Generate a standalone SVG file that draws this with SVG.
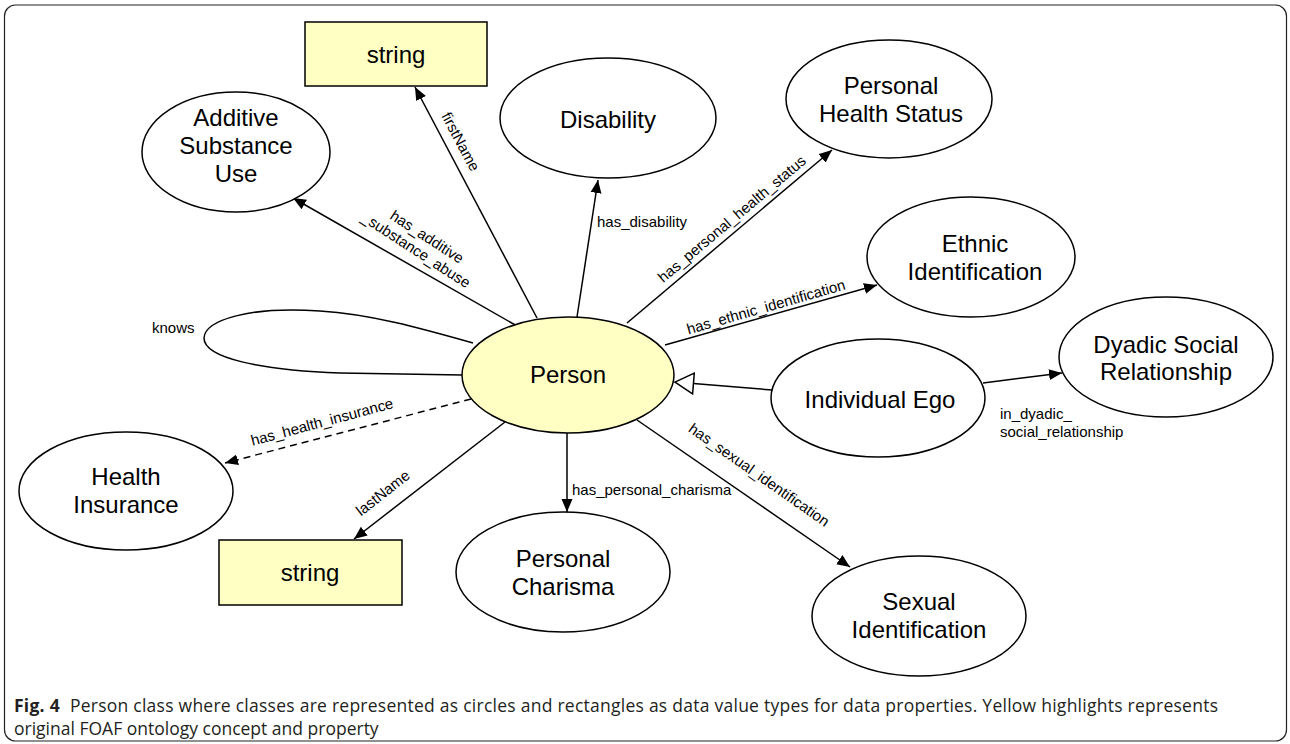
<svg xmlns="http://www.w3.org/2000/svg" width="1290" height="744" viewBox="0 0 1290 744">
<style>
.node{fill:#fff;stroke:#000;stroke-width:1.5}
.foaf{fill:#FFFFC4;stroke:#000;stroke-width:1.5}
.nt{font-family:"Liberation Sans",Arial,sans-serif;font-size:24px;fill:#000;text-anchor:middle}
.edge{stroke:#000;stroke-width:1.5;fill:none}
.lbl{font-family:"Liberation Sans",Arial,sans-serif;font-size:15px;fill:#000}
.mid{text-anchor:middle}
.cap{font-family:"Open Sans","Noto Sans",sans-serif;font-size:17.5px;fill:#231f20}
</style>
<defs>
<marker id="arr" markerWidth="14" markerHeight="12" refX="13" refY="6" orient="auto" markerUnits="userSpaceOnUse"><path d="M0,0.5 L13,6 L0,11.5 z" fill="#000"/></marker>
<marker id="gen" markerWidth="21" markerHeight="24" refX="19.5" refY="12" orient="auto" markerUnits="userSpaceOnUse"><path d="M1,1.5 L19.5,12 L1,22.5 z" fill="#fff" stroke="#000" stroke-width="1.5"/></marker>
</defs>
<rect x="4.5" y="5" width="1282" height="736" rx="11" fill="#fff" stroke="#222" stroke-width="1.2"/>

<g id="connectors">
<line class="edge" x1="537" y1="318" x2="415" y2="87" marker-end="url(#arr)"/>
<line class="edge" x1="517" y1="326" x2="293" y2="198" marker-end="url(#arr)"/>
<line class="edge" x1="577" y1="317" x2="598" y2="180" marker-end="url(#arr)"/>
<line class="edge" x1="627" y1="323" x2="832" y2="150" marker-end="url(#arr)"/>
<line class="edge" x1="665" y1="345" x2="877" y2="285" marker-end="url(#arr)"/>
<line class="edge" x1="772" y1="390" x2="675" y2="382" marker-end="url(#gen)"/>
<line class="edge" x1="983" y1="383" x2="1062" y2="373" marker-end="url(#arr)"/>
<line class="edge" x1="637" y1="420" x2="850" y2="567" marker-end="url(#arr)"/>
<line class="edge" x1="567" y1="433" x2="567" y2="512" marker-end="url(#arr)"/>
<line class="edge" x1="505" y1="422" x2="354" y2="539" marker-end="url(#arr)"/>
<line class="edge" x1="471" y1="399" x2="225" y2="463" stroke-dasharray="7,5" marker-end="url(#arr)"/>
<path class="edge" d="M473,343 C420,328 370,314 320,311 C250,306 205,320 204,338 C204,358 260,370 340,373 L462,375"/>

<text class="lbl" x="152" y="333">knows</text>
<g transform="translate(456,144) rotate(62)"><text class="lbl mid" x="0" y="0">firstName</text></g>
<g transform="translate(427,237) rotate(33)"><text class="lbl mid" x="0" y="5">has_additive</text><text class="lbl mid" x="-2" y="22">_substance_abuse</text></g>
<text class="lbl" x="597" y="227">has_disability</text>
<g transform="translate(732,219) rotate(-40)"><text class="lbl mid" x="0" y="5">has_personal_health_status</text></g>
<g transform="translate(766,307) rotate(-16)"><text class="lbl mid" x="0" y="5">has_ethnic_identification</text></g>
<text class="lbl" x="1000" y="419">in_dyadic_</text>
<text class="lbl" x="1000" y="437">social_relationship</text>
<g transform="translate(759,475) rotate(35)"><text class="lbl mid" x="0" y="5">has_sexual_identification</text></g>
<text class="lbl" x="572" y="495">has_personal_charisma</text>
<g transform="translate(383,493) rotate(-38)"><text class="lbl mid" x="0" y="5">lastName</text></g>
<g transform="translate(322,422) rotate(-15)"><text class="lbl mid" x="0" y="5">has_health_insurance</text></g>
</g>

<g id="string-top"><rect class="foaf" x="305" y="22" width="182" height="64"/><text class="nt" x="396" y="63">string</text></g>
<g id="additive"><ellipse class="node" cx="236" cy="152" rx="94" ry="60"/><text class="nt" x="236" y="126">Additive</text><text class="nt" x="236" y="154">Substance</text><text class="nt" x="236" y="182">Use</text></g>
<g id="disability"><ellipse class="node" cx="608" cy="118" rx="108" ry="60"/><text class="nt" x="608" y="128">Disability</text></g>
<g id="phs"><ellipse class="node" cx="889" cy="99" rx="103" ry="59"/><text class="nt" x="891" y="94">Personal</text><text class="nt" x="891" y="122">Health Status</text></g>
<g id="ethnic"><ellipse class="node" cx="971" cy="257" rx="104" ry="60"/><text class="nt" x="975" y="252">Ethnic</text><text class="nt" x="975" y="280">Identification</text></g>
<g id="person"><ellipse class="foaf" cx="568" cy="375" rx="106" ry="58"/><text class="nt" x="568" y="383">Person</text></g>
<g id="ego"><ellipse class="node" cx="878" cy="398" rx="107" ry="59"/><text class="nt" x="880" y="408">Individual Ego</text></g>
<g id="dyadic"><ellipse class="node" cx="1166" cy="357" rx="107" ry="60"/><text class="nt" x="1166" y="353">Dyadic Social</text><text class="nt" x="1166" y="380">Relationship</text></g>
<g id="health-insurance"><ellipse class="node" cx="126" cy="491" rx="107" ry="59"/><text class="nt" x="126" y="485">Health</text><text class="nt" x="126" y="513">Insurance</text></g>
<g id="string-bottom"><rect class="foaf" x="219" y="540" width="183" height="65"/><text class="nt" x="310" y="581">string</text></g>
<g id="charisma"><ellipse class="node" cx="563" cy="572" rx="107" ry="60"/><text class="nt" x="563" y="567">Personal</text><text class="nt" x="563" y="595">Charisma</text></g>
<g id="sexual"><ellipse class="node" cx="919" cy="616" rx="107" ry="60"/><text class="nt" x="919" y="610">Sexual</text><text class="nt" x="919" y="638">Identification</text></g>

<text class="cap" x="14" y="712" textLength="1204" lengthAdjust="spacing"><tspan font-weight="bold">Fig. 4</tspan><tspan dx="10">Person class where classes are represented as circles and rectangles as data value types for data properties. Yellow highlights represents</tspan></text>
<text class="cap" x="14" y="735">original FOAF ontology concept and property</text>
</svg>
